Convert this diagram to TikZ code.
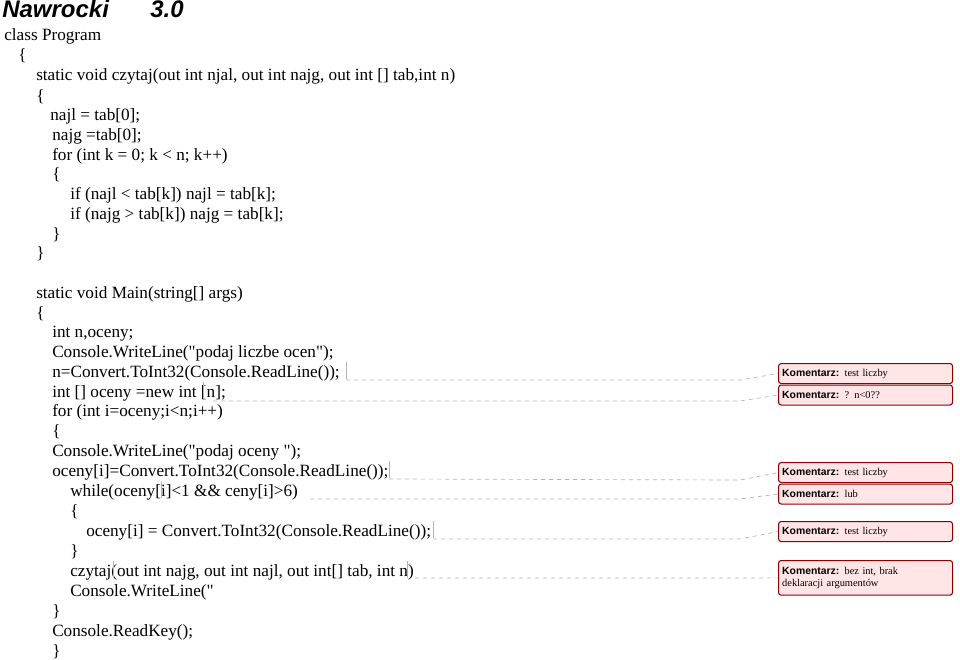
\documentclass[tikz,border=0pt]{standalone}
\usepackage{fontspec}
\setmainfont{Liberation Serif}
\setsansfont{Liberation Sans}
\begin{document}
\begin{tikzpicture}[x=0.75pt,y=-0.75pt,
	code/.style={anchor=base west,inner sep=0pt,font=\fontsize{12.9}{15}\selectfont},
	komentarz/.style={draw=red!55!black,fill=red!10,rounded corners=2pt,line width=0.8pt,
		anchor=north west,minimum width=130.5pt,minimum height=15pt,inner sep=2.5pt,
		align=left,text width=125pt,font=\fontsize{7.8}{9}\selectfont},
	link/.style={gray!60,dashed,line width=0.5pt},
	marker/.style={gray!60,line width=0.4pt}]

\useasboundingbox (0,0) rectangle (960,660);

\node[anchor=base west,inner sep=0pt,font=\sffamily\bfseries\itshape\fontsize{18}{20}\selectfont] (title) at (2,18) {Nawrocki};
\node[anchor=base west,inner sep=0pt,font=\sffamily\bfseries\itshape\fontsize{18}{20}\selectfont] (wersja) at (150,18) {3.0};

% lines of code: {x}/{baseline}/{text}
\foreach \x/\y/\txt [count=\i] in {
	4/41/class Program,
	18/61/\{,
	36/81/static void czytaj(out int njal{,} out int najg{,} out int [] tab{,}int n),
	36/101/\{,
	50/120/najl = tab[0];,
	52/140/najg =tab[0];,
	52/160/for (int k = 0; k < n; k++),
	52/179/\{,
	70/199/if (najl < tab[k]) najl = tab[k];,
	70/219/if (najg > tab[k]) najg = tab[k];,
	52/239/\},
	36/258/\},
	36/298/static void Main(string[] args),
	36/318/\{,
	52/337/int n{,}oceny;,
	52/357/Console.WriteLine(\textquotedbl podaj liczbe ocen\textquotedbl);,
	52/377/n=Convert.ToInt32(Console.ReadLine());,
	52/397/int [] oceny =new int [n];,
	52/416/for (int i=oceny;i<n;i++),
	52/436/\{,
	52/456/Console.WriteLine(\textquotedbl podaj oceny \textquotedbl);,
	52/476/oceny[i]=Convert.ToInt32(Console.ReadLine());,
	70/496/while(oceny[i]<1 \&\& ceny[i]>6),
	70/516/\{,
	86/536/oceny[i] = Convert.ToInt32(Console.ReadLine());,
	70/556/\},
	70/576/czytaj(out int najg{,} out int najl{,} out int[] tab{,} int n),
	70/596/Console.WriteLine(\textquotedbl,
	52/616/\},
	52/636/Console.ReadKey();,
	52/656/\}}
	\node[code] (line\i) at (\x,\y) {\txt};

% comments
\node[komentarz] (k1) at (778,363) {\textsf{\textbf{Komentarz:}} test liczby};
\node[komentarz] (k2) at (778,384.5) {\textsf{\textbf{Komentarz:}} ? n<0??};
\node[komentarz] (k3) at (778,462) {\textsf{\textbf{Komentarz:}} test liczby};
\node[komentarz] (k4) at (778,483.5) {\textsf{\textbf{Komentarz:}} lub};
\node[komentarz] (k5) at (778,521) {\textsf{\textbf{Komentarz:}} test liczby};
\node[komentarz,minimum height=26pt] (k6) at (778,560) {\textsf{\textbf{Komentarz:}} bez int, brak\\deklaracji argumentów};

% anchors in the code
\foreach \n/\x/\y in {a1/346/371, a2/203/391, a3/389/470, a4/161/490, a5/433/530, a6/407/570}
	\coordinate (\n) at (\x,\y);
\coordinate (b1) at (113,570);
\foreach \n in {a1,a2,a3,a4,a5,a6,b1}
	\draw[marker] (\n) ++(0,-9) -- ++(0,17);

\draw[link] (a1) ++(0,9) -- (740,380) -- (k1.west);
\draw[link] (213,401) -- (740,401) -- (k2.west);
\draw[link] (a3) ++(0,9) -- (740,480) -- (k3.west);
\draw[link] (310,499) -- (740,499) -- (k4.west);
\draw[link] (a5) ++(0,9) -- (740,539) -- (k5.west);
\draw[link] (a6) ++(8,8) -- (740,578) -- (k6.west);
\end{tikzpicture}
\end{document}
